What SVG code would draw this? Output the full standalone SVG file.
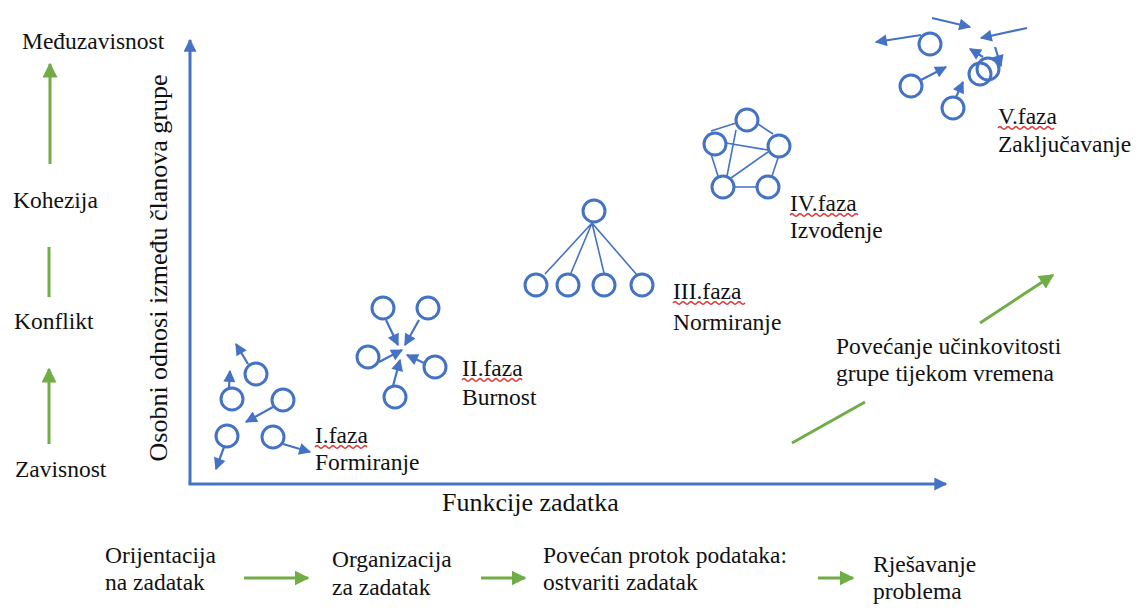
<svg xmlns="http://www.w3.org/2000/svg" width="1137" height="610" viewBox="0 0 1137 610" font-family="'Liberation Serif', 'DejaVu Serif', serif">
<style>
text{font-family:'Liberation Serif','DejaVu Serif',serif;fill:#111;font-size:23.5px}
.ax{font-size:26px}
.n{fill:none;stroke:#4472C4;stroke-width:3}
.b{stroke:#4472C4;stroke-width:2.2;fill:none}
.bl{stroke:#4472C4;stroke-width:1.6;fill:none}
.g{stroke:#70AD47;stroke-width:3;fill:none}
.sq{stroke:#E03030;stroke-width:1.3;fill:none}
</style>
<defs>
<marker id="ah" viewBox="0 0 10 10" refX="9" refY="5" markerWidth="15" markerHeight="12" markerUnits="userSpaceOnUse" orient="auto"><path d="M0,0 L10,5 L0,10 z" fill="#4472C4"/></marker>
<marker id="axh" viewBox="0 0 10 10" refX="9" refY="5" markerWidth="16" markerHeight="13" markerUnits="userSpaceOnUse" orient="auto"><path d="M0,0 L10,5 L0,10 z" fill="#4472C4"/></marker>
<marker id="gh" viewBox="0 0 10 10" refX="9" refY="5" markerWidth="15" markerHeight="15" markerUnits="userSpaceOnUse" orient="auto"><path d="M0,0 L10,5 L0,10 z" fill="#70AD47"/></marker>
</defs>

<g id="axes">
<path class="b" style="stroke-width:3" d="M190,484 L190,40" marker-end="url(#axh)"/>
<path class="b" style="stroke-width:3" d="M188.5,484 L946,484" marker-end="url(#axh)"/>
<text class="ax" transform="translate(167,268) rotate(-90)" text-anchor="middle">Osobni odnosi između članova grupe</text>
<text class="ax" x="442" y="511">Funkcije zadatka</text>
</g>

<g id="left-scale">
<text x="22" y="49">Međuzavisnost</text>
<text x="13" y="208">Kohezija</text>
<text x="14" y="329">Konflikt</text>
<text x="15" y="477">Zavisnost</text>
</g>

<g id="connectors">
<path class="g" d="M50,164 L50,64" marker-end="url(#gh)"/>
<path class="g" d="M49,247 L49,297"/>
<path class="g" d="M49,444 L49,369" marker-end="url(#gh)"/>
<path class="g" d="M792,443 L865,402"/>
<path class="g" d="M980,323 L1053,275" marker-end="url(#gh)"/>
<path class="g" d="M244,578 L308,578" marker-end="url(#gh)"/>
<path class="g" d="M481,578 L525,578" marker-end="url(#gh)"/>
<path class="g" d="M818,578 L853,578" marker-end="url(#gh)"/>
</g>

<g id="phase1">
<circle class="n" cx="256" cy="374" r="11"/>
<circle class="n" cx="232" cy="399" r="11"/>
<circle class="n" cx="283" cy="400" r="11"/>
<circle class="n" cx="227" cy="436" r="11"/>
<circle class="n" cx="273" cy="437" r="11"/>
<path class="b" d="M248,364 L236,344" marker-end="url(#ah)"/>
<path class="b" d="M229,388 L230,371" marker-end="url(#ah)"/>
<path class="b" d="M273,407 L246,422" marker-end="url(#ah)"/>
<path class="b" d="M224,447 L216,469" marker-end="url(#ah)"/>
<path class="b" d="M283,444 L310,452" marker-end="url(#ah)"/>
<text x="315" y="443">I.faza</text>
<path class="sq" d="M315,447 q2,-2.5 4,0 t4,0 t4,0 t4,0 t4,0 t4,0 t4,0 t4,0 t4,0 t4,0 t4,0 t4,0 t4,0"/>
<text x="315" y="470">Formiranje</text>
</g>

<g id="phase2">
<circle class="n" cx="383" cy="308" r="11"/>
<circle class="n" cx="428" cy="308" r="11"/>
<circle class="n" cx="368" cy="357" r="11"/>
<circle class="n" cx="435" cy="367" r="11"/>
<circle class="n" cx="395" cy="397" r="11"/>
<path class="b" d="M386,320 L398,345" marker-end="url(#ah)"/>
<path class="b" d="M419,320 L405,345" marker-end="url(#ah)"/>
<path class="b" d="M379,362 L402,350" marker-end="url(#ah)"/>
<path class="b" d="M424,363 L407,355" marker-end="url(#ah)"/>
<path class="b" d="M393,386 L400,360" marker-end="url(#ah)"/>
<text x="462" y="376">II.faza</text>
<path class="sq" d="M462,380 q2,-2.5 4,0 t4,0 t4,0 t4,0 t4,0 t4,0 t4,0 t4,0 t4,0 t4,0 t4,0 t4,0 t4,0 t4,0 t4,0"/>
<text x="462" y="405">Burnost</text>
</g>

<g id="phase3">
<circle class="n" cx="594" cy="211" r="11"/>
<circle class="n" cx="536" cy="285" r="11"/>
<circle class="n" cx="568" cy="285" r="11"/>
<circle class="n" cx="604" cy="285" r="11"/>
<circle class="n" cx="642" cy="285" r="11"/>
<path class="bl" d="M592,223 L545,274 M592,223 L571,273 M592,223 L604,273 M592,223 L637,275"/>
<text x="673" y="299">III.faza</text>
<path class="sq" d="M673,303 q2,-2.5 4,0 t4,0 t4,0 t4,0 t4,0 t4,0 t4,0 t4,0 t4,0 t4,0 t4,0 t4,0 t4,0 t4,0 t4,0 t4,0 t4,0 t4,0"/>
<text x="673" y="330">Normiranje</text>
</g>

<g id="phase4">
<circle class="n" cx="747" cy="120" r="11"/>
<circle class="n" cx="715" cy="144" r="11"/>
<circle class="n" cx="779" cy="146" r="11"/>
<circle class="n" cx="723" cy="187" r="11"/>
<circle class="n" cx="768" cy="187" r="11"/>
<path class="bl" d="M736,123 L711,131 M758,124 L773,134 M736,130 L727,176 M726,143 L768,150 M711,154 L718,176 M768,152 L731,178 M778,158 L772,176 M734,187 L757,187"/>
<text x="790" y="211">IV.faza</text>
<path class="sq" d="M790,215 q2,-2.5 4,0 t4,0 t4,0 t4,0 t4,0 t4,0 t4,0 t4,0 t4,0 t4,0 t4,0 t4,0 t4,0 t4,0 t4,0 t4,0 t4,0"/>
<text x="790" y="238">Izvođenje</text>
</g>

<g id="phase5">
<circle class="n" cx="930" cy="44" r="11"/>
<circle class="n" cx="911" cy="86" r="11"/>
<circle class="n" cx="953" cy="108" r="11"/>
<circle class="n" cx="980" cy="74" r="11"/>
<circle class="n" cx="988" cy="69" r="11"/>
<path class="b" d="M921,35 L876,42" marker-end="url(#ah)"/>
<path class="b" d="M932,18 L970,27" marker-end="url(#ah)"/>
<path class="b" d="M1027,28 L981,38" marker-end="url(#ah)"/>
<path class="b" d="M921,80 L946,67" marker-end="url(#ah)"/>
<path class="b" d="M956,97 L963,82" marker-end="url(#ah)"/>
<path class="b" d="M983,57 L970,49" marker-end="url(#ah)"/>
<path class="b" d="M995,47 L1001,66" marker-end="url(#ah)"/>
<text x="998" y="124">V.faza</text>
<path class="sq" d="M998,128 q2,-2.5 4,0 t4,0 t4,0 t4,0 t4,0 t4,0 t4,0 t4,0 t4,0 t4,0 t4,0 t4,0 t4,0 t4,0"/>
<text x="998" y="152">Zaključavanje</text>
</g>

<g id="trend-label">
<text x="836" y="354">Povećanje učinkovitosti</text>
<text x="836" y="381">grupe tijekom vremena</text>
</g>

<g id="stage1"><text x="105" y="563">Orijentacija</text><text x="105" y="590">na zadatak</text></g>
<g id="stage2"><text x="332" y="567">Organizacija</text><text x="332" y="595">za zadatak</text></g>
<g id="stage3"><text x="543" y="563">Povećan protok podataka:</text><text x="543" y="590">ostvariti zadatak</text></g>
<g id="stage4"><text x="873" y="572">Rješavanje</text><text x="873" y="599">problema</text></g>
</svg>
